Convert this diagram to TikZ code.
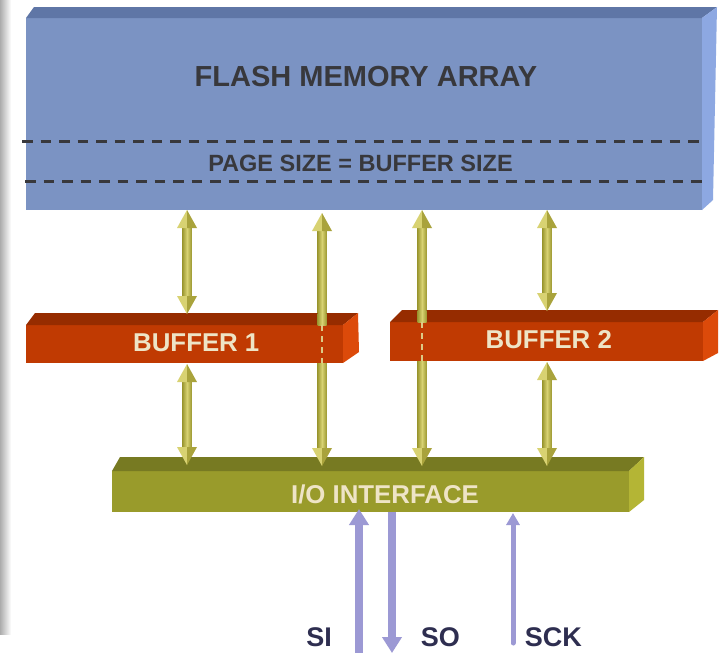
\documentclass[tikz,border=0pt]{standalone}
\usepackage{fontspec}
\setmainfont{Liberation Sans}[BoldFont={Liberation Sans Bold}]
\usetikzlibrary{calc,arrows.meta}

\definecolor{flashF}{HTML}{7B93C3}
\definecolor{flashT}{HTML}{5F76A6}
\definecolor{flashS}{HTML}{8DA8E2}
\definecolor{bufF}{HTML}{C03A02}
\definecolor{bufT}{HTML}{962C00}
\definecolor{bufS}{HTML}{DC4A0A}
\definecolor{ioF}{HTML}{999B2B}
\definecolor{ioT}{HTML}{777A22}
\definecolor{ioS}{HTML}{B4B535}
\definecolor{olL}{HTML}{D8D272}
\definecolor{olM}{HTML}{BDB64B}
\definecolor{olD}{HTML}{9E9A33}
\definecolor{olS}{HTML}{A9A33C}
\definecolor{lav}{HTML}{9C99D4}
\definecolor{cream}{HTML}{EEE4C6}
\definecolor{ink}{HTML}{38383C}
\definecolor{navy}{HTML}{2E2E50}
\definecolor{tan}{HTML}{DCCB86}

% side and top faces of a block whose front face is node #1
\newcommand\prism[6]{%
  \fill[#2] (#1.north west) -- ++#4 -- ($(#1.north east)+#5$) -- (#1.north east) -- cycle;
  \fill[#3] (#1.north east) -- ++#5 -- ($(#1.south east)+#6$) -- (#1.south east) -- cycle;}
% round olive shaft between two points
\newcommand\oshaft[2]{\shade[left color=olD,right color=olD,middle color=olL]
  ($(#1)+(-4.5,0)$) rectangle ($(#2)+(4.5,0)$);}
% cone heads, tip at the given point
\newcommand\oup[1]{%
  \fill[olL] (#1) -- ++(-10,18) -- ++(10,0) -- cycle;
  \fill[olS] (#1) -- ++(10,18) -- ++(-10,0) -- cycle;}
\newcommand\odown[1]{%
  \fill[olL] (#1) -- ++(-10,-18) -- ++(10,0) -- cycle;
  \fill[olS] (#1) -- ++(10,-18) -- ++(-10,0) -- cycle;}

\tikzset{
  face/.style={inner sep=0pt,outer sep=0pt,draw=none},
  bigtxt/.style={anchor=base,inner sep=0pt,font=\bfseries\fontsize{29}{29}\selectfont,text=ink},
  midtxt/.style={anchor=base,inner sep=0pt,font=\bfseries\fontsize{23.5}{23.5}\selectfont,text=ink},
  blocktxt/.style={anchor=base,inner sep=0pt,font=\bfseries\fontsize{25.8}{25.8}\selectfont,text=cream},
  pintxt/.style={anchor=base,inner sep=0pt,font=\bfseries\fontsize{27}{27}\selectfont,text=navy},
  pagedash/.style={ink,line width=3pt,dash pattern=on 10.5pt off 8pt},
  hidden/.style={tan,line width=2.5pt,dash pattern=on 6pt off 5pt},
  sigline/.style={lav,line width=8pt},
}

\begin{document}
\begin{tikzpicture}[x=1pt,y=-1pt]
\useasboundingbox (0,0) rectangle (723,653);
\fill[white] (0,0) rectangle (723,653);
% shadow strip along the left edge
\shade[left color=gray!65,right color=white] (0,0) rectangle (11,634);

% ---- flash memory array
\node[face,fill=flashF,minimum width=676pt,minimum height=192pt] (flash) at (364,114) {};
\prism{flash}{flashT}{flashS}{(8,-11)}{(15,-11)}{(11,-10)}
\draw[pagedash] (22,141) -- (701,141);
\draw[pagedash] (25,181) -- (705,181);
\node[bigtxt] (flashlbl) at (366,86.5) {FLASH MEMORY ARRAY};
\node[midtxt] (pagelbl) at (360.5,171.5) {PAGE SIZE = BUFFER SIZE};

% ---- I/O interface
\node[face,fill=ioF,minimum width=517pt,minimum height=41pt] (io) at (370.5,491.5) {};
\prism{io}{ioT}{ioS}{(8,-14)}{(15,-14)}{(15,-12)}
\node[blocktxt] (iolbl) at (385,503) {I/O INTERFACE};

% column positions of the olive links
\coordinate (colA) at (187,0);
\coordinate (colB) at (322,0);
\coordinate (colC) at (422,0);
\coordinate (colD) at (547,0);

% links that pass behind the buffers
\coordinate (bTop) at ($(colB |- flash.south)+(0,3)$);
\coordinate (bBot) at ($(colB |- io.north)+(0,-5)$);
\coordinate (cTop) at (colC |- flash.south);
\coordinate (cBot) at ($(colC |- io.north)+(0,-5)$);
\oshaft{$(bTop)+(0,12)$}{$(bBot)+(0,-12)$}
\oshaft{$(cTop)+(0,12)$}{$(cBot)+(0,-12)$}

% ---- buffers
\node[face,fill=bufF,minimum width=317pt,minimum height=38pt] (buf1) at (184.5,344) {};
\prism{buf1}{bufT}{bufS}{(9,-12)}{(15,-12)}{(16,-11)}
\node[face,fill=bufF,minimum width=313pt,minimum height=39pt] (buf2) at (546.5,341.5) {};
\prism{buf2}{bufT}{bufS}{(12,-12)}{(15,-12)}{(15,-8)}

% the hidden links seen through the buffers
\oshaft{$(colB |- buf1.north)+(0,-12)$}{colB |- buf1.north}
\draw[hidden] (colB |- buf1.north) -- (colB |- buf1.south);
\oshaft{$(colC |- buf2.north)+(0,-12)$}{colC |- buf2.north}
\draw[hidden] (colC |- buf2.north) -- (colC |- buf2.south);

\node[blocktxt] (buf1lbl) at (196.3,351.5) {BUFFER 1};
\node[blocktxt] (buf2lbl) at (548.8,348.7) {BUFFER 2};

% ---- olive links, flash <-> buffers and buffers <-> I/O
\coordinate (aTop) at (colA |- flash.south);
\coordinate (aMid) at ($(colA |- buf1.north)+(0,-11)$);
\coordinate (aLow) at ($(colA |- buf1.south)+(0,1)$);
\coordinate (aBot) at ($(colA |- io.north)+(0,-6)$);
\coordinate (dTop) at (colD |- flash.south);
\coordinate (dMid) at ($(colD |- buf2.north)+(0,-11)$);
\coordinate (dLow) at ($(colD |- buf2.south)+(0,1)$);
\coordinate (dBot) at ($(colD |- io.north)+(0,-5)$);

\oshaft{$(aTop)+(0,12)$}{$(aMid)+(0,-12)$}
\oshaft{$(aLow)+(0,12)$}{$(aBot)+(0,-12)$}
\oshaft{$(dTop)+(0,12)$}{$(dMid)+(0,-12)$}
\oshaft{$(dLow)+(0,12)$}{$(dBot)+(0,-12)$}

\oup{aTop} \odown{aMid} \oup{aLow} \odown{aBot}
\oup{dTop} \odown{dMid} \oup{dLow} \odown{dBot}
\oup{bTop} \odown{bBot}
\oup{cTop} \odown{cBot}

% ---- serial pins
\coordinate (siEnd) at (359,653);
\coordinate (soEnd) at (392,653);
\coordinate (sckEnd) at (513,643);
\draw[sigline,-{Triangle[width=19pt,length=16pt]}] (siEnd) -- ($(siEnd |- io.south)+(0,-3)$);
\draw[sigline,-{Triangle[width=19pt,length=16pt]}] (soEnd |- io.south) -- (soEnd);
\draw[sigline,line width=5pt,line cap=round,-{Triangle[width=13pt,length=12pt]}] (sckEnd) -- ($(sckEnd |- io.south)+(0,1)$);

\node[pintxt] (si) at (319.2,646.5) {SI};
\node[pintxt] (so) at (440.3,646.5) {SO};
\node[pintxt] (sck) at (553.3,646.5) {SCK};
\end{tikzpicture}
\end{document}
